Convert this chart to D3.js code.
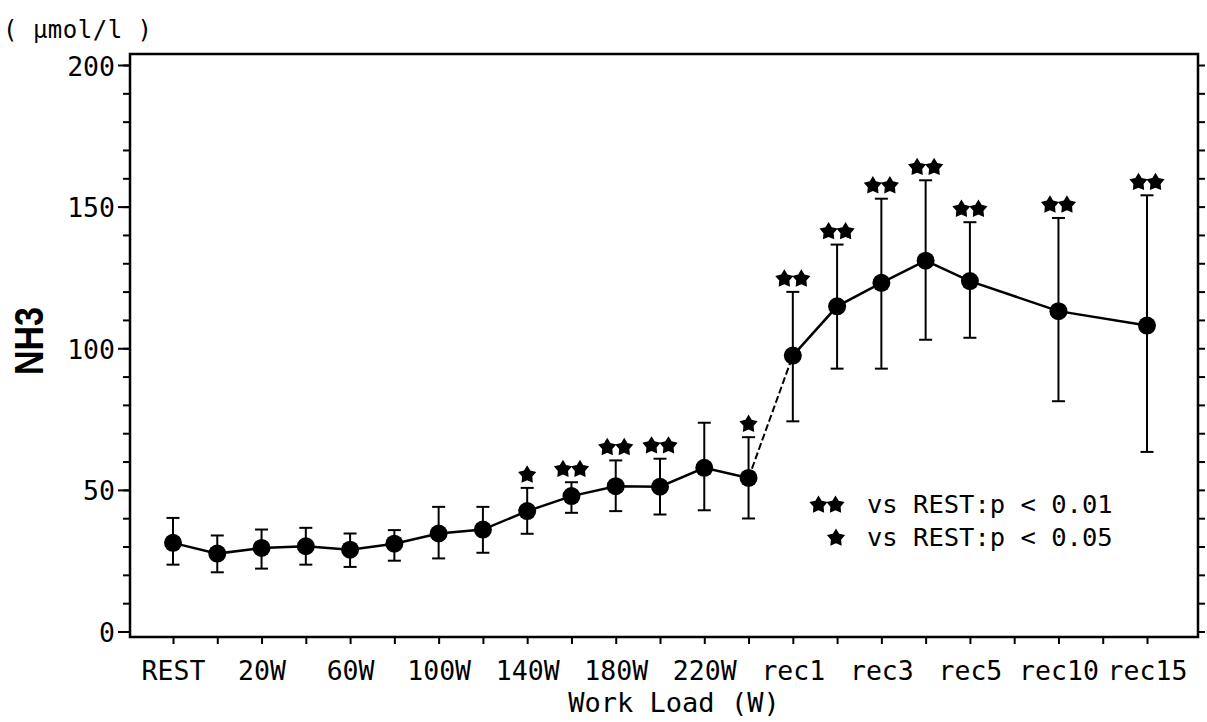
<!DOCTYPE html>
<html>
<head>
<meta charset="utf-8">
<script src="https://cdn.jsdelivr.net/npm/d3@7"></script>
<style>
  body { margin: 0; background: #fff; }
  svg { display: block; }
  .mono { font-family: "DejaVu Sans Mono", "Liberation Mono", monospace; }
</style>
</head>
<body>
<svg id="chart" width="1207" height="722"></svg>
<script>
// tick slots along the x axis (only every second one is labelled)
const tickLabels = ["REST", "", "20W", "", "60W", "", "100W", "", "140W", "", "180W", "", "220W", "",
  "rec1", "", "rec3", "", "rec5", "", "rec10", "", "rec15"];
// slot of each measured point
const pointSlot = [0, 1, 2, 3, 4, 5, 6, 7, 8, 9, 10, 11, 12, 13, 14, 15, 16, 17, 18, 20, 22];
const meanNH3  = [31.3, 27.5, 29.5, 30.1, 28.9, 31.0, 34.6, 36.0, 42.5, 47.8, 51.3, 51.1, 57.8, 54.2,
  97.4, 114.8, 123.1, 130.9, 123.7, 113.1, 108.0];
const upperNH3 = [40.1, 33.9, 36.0, 36.6, 34.6, 35.8, 44.0, 44.0, 50.7, 52.7, 60.4, 61.0, 73.7, 68.6,
  119.9, 136.6, 152.8, 159.3, 144.5, 146.0, 154.0];
const lowerNH3 = [23.6, 20.9, 22.2, 23.6, 22.8, 25.0, 25.8, 27.8, 34.5, 41.9, 42.5, 41.3, 42.8, 39.9,
  74.2, 92.8, 92.8, 103.0, 103.7, 81.3, 63.4];
const signif   = ["", "", "", "", "", "", "", "", "*", "**", "**", "**", "", "*",
  "**", "**", "**", "**", "**", "**", "**"];
const yMajor = [0, 50, 100, 150, 200];
const yMinor = d3.range(0, 201, 10);
const legendMarks = ["**", "*"];
const legendTexts = ["vs REST:p < 0.01", "vs REST:p < 0.05"];

const svg = d3.select("#chart");
const frame = {left: 130, right: 1198, top: 54, bottom: 637};

let x = d3.scalePoint().domain(d3.range(tickLabels.length)).range([173, 1147]);
let y = d3.scaleLinear().domain([0, 200]).range([631.5, 65]);

let pts = pointSlot.map((s, i) => ({
  slot: s, mean: meanNH3[i], hi: upperNH3[i], lo: lowerNH3[i], sig: signif[i]
}));

// chunky plotter-style star
const fatStar = {
  draw(ctx, size) {
    let R = Math.sqrt(size), r = R * 0.56;
    for (let i = 0; i < 10; i++) {
      let a = -Math.PI / 2 + i * Math.PI / 5;
      let rad = i % 2 ? r : R;
      if (i == 0) ctx.moveTo(rad * Math.cos(a), rad * Math.sin(a));
      else ctx.lineTo(rad * Math.cos(a), rad * Math.sin(a));
    }
    ctx.closePath();
  }
};
const star = d3.symbol().type(fatStar).size(92);

function drawStars(g, mark, cx, cy) {
  let n = mark.length;
  for (let k = 0; k < n; k++) {
    let dx = n == 2 ? (k == 0 ? -8.5 : 8.5) : 0;
    g.append("path").attr("d", star)
      .attr("transform", `translate(${cx + dx},${cy})`)
      .attr("fill", "#000");
  }
}

// frame
svg.append("rect")
  .attr("x", frame.left).attr("y", frame.top)
  .attr("width", frame.right - frame.left).attr("height", frame.bottom - frame.top)
  .attr("fill", "none").attr("stroke", "#000").attr("stroke-width", 2.5);

// left axis: major with labels, minor ticks
let gl = svg.append("g").attr("transform", `translate(${frame.left},0)`)
  .call(d3.axisLeft(y).tickValues(yMajor).tickSize(12).tickPadding(3).tickFormat(d3.format("d")));
gl.select(".domain").remove();
gl.selectAll("line").attr("stroke-width", 2);
gl.selectAll("text").attr("dy", null).attr("y", 10)
  .attr("class", "mono").style("font-size", "26.5px").attr("fill", "#000");

let glm = svg.append("g").attr("transform", `translate(${frame.left},0)`)
  .call(d3.axisLeft(y).tickValues(yMinor).tickSize(7).tickFormat(""));
glm.select(".domain").remove();
glm.selectAll("line").attr("stroke-width", 2);

// right axis ticks
let gr = svg.append("g").attr("transform", `translate(${frame.right},0)`)
  .call(d3.axisRight(y).tickValues(yMinor).tickSize(7).tickFormat(""));
gr.select(".domain").remove();
gr.selectAll("line").attr("stroke-width", 2);

// bottom axis
let gb = svg.append("g").attr("transform", `translate(0,${frame.bottom})`)
  .call(d3.axisBottom(x).tickSize(7).tickFormat(i => tickLabels[i]));
gb.select(".domain").remove();
gb.selectAll("line").attr("stroke-width", 2);
gb.selectAll("text").attr("dy", null).attr("y", 43)
  .attr("class", "mono").style("font-size", "26.5px").attr("fill", "#000");

// error bars
let eb = svg.append("g").attr("stroke", "#000").attr("stroke-width", 2);
pts.forEach(p => {
  let cx = x(p.slot);
  eb.append("line").attr("x1", cx).attr("x2", cx).attr("y1", y(p.hi)).attr("y2", y(p.lo));
  eb.append("line").attr("x1", cx - 6.5).attr("x2", cx + 6.5).attr("y1", y(p.hi)).attr("y2", y(p.hi));
  eb.append("line").attr("x1", cx - 6.5).attr("x2", cx + 6.5).attr("y1", y(p.lo)).attr("y2", y(p.lo));
});

// mean line: exercise, transition (dashed), recovery
let line = d3.line().x(d => x(d.slot)).y(d => y(d.mean));
let exer = pts.filter(p => p.slot <= 13);
let reco = pts.filter(p => p.slot >= 14);
svg.append("path").attr("d", line(exer)).attr("fill", "none").attr("stroke", "#000").attr("stroke-width", 2.5);
svg.append("path").attr("d", line(reco)).attr("fill", "none").attr("stroke", "#000").attr("stroke-width", 2.5);
svg.append("path").attr("d", line([exer[exer.length - 1], reco[0]]))
  .attr("fill", "none").attr("stroke", "#000").attr("stroke-width", 2).attr("stroke-dasharray", "7,3");

// markers
svg.append("g").selectAll("circle").data(pts).enter().append("circle")
  .attr("cx", d => x(d.slot)).attr("cy", d => y(d.mean)).attr("r", 9).attr("fill", "#000");

// significance stars
let gs = svg.append("g");
pts.filter(p => p.sig).forEach(p => drawStars(gs, p.sig, x(p.slot), y(p.hi) - 13));

// legend
let lg = svg.append("g");
legendMarks.forEach((m, i) => {
  let cy = 505 + i * 33;
  drawStars(lg, m, m.length == 2 ? 827 : 836, cy);
  lg.append("text").attr("class", "mono").attr("x", 867).attr("y", cy + 8)
    .style("font-size", "25.5px").attr("fill", "#000").text(legendTexts[i]);
});

// titles
svg.append("text").attr("class", "mono").attr("x", 674).attr("y", 712)
  .attr("text-anchor", "middle").style("font-size", "27px").text("Work Load (W)");

svg.append("text").attr("transform", "translate(43,341) rotate(-90)")
  .attr("text-anchor", "middle")
  .style("font-family", "'Liberation Sans', Arial, sans-serif").style("font-weight", "bold")
  .style("font-size", "40px").attr("textLength", 68).attr("lengthAdjust", "spacingAndGlyphs")
  .text("NH3");

svg.append("text").attr("class", "mono").attr("x", 3).attr("y", 38)
  .style("font-size", "24px").style("letter-spacing", "0.5px").text("( μmol/l )");
</script>
</body>
</html>
